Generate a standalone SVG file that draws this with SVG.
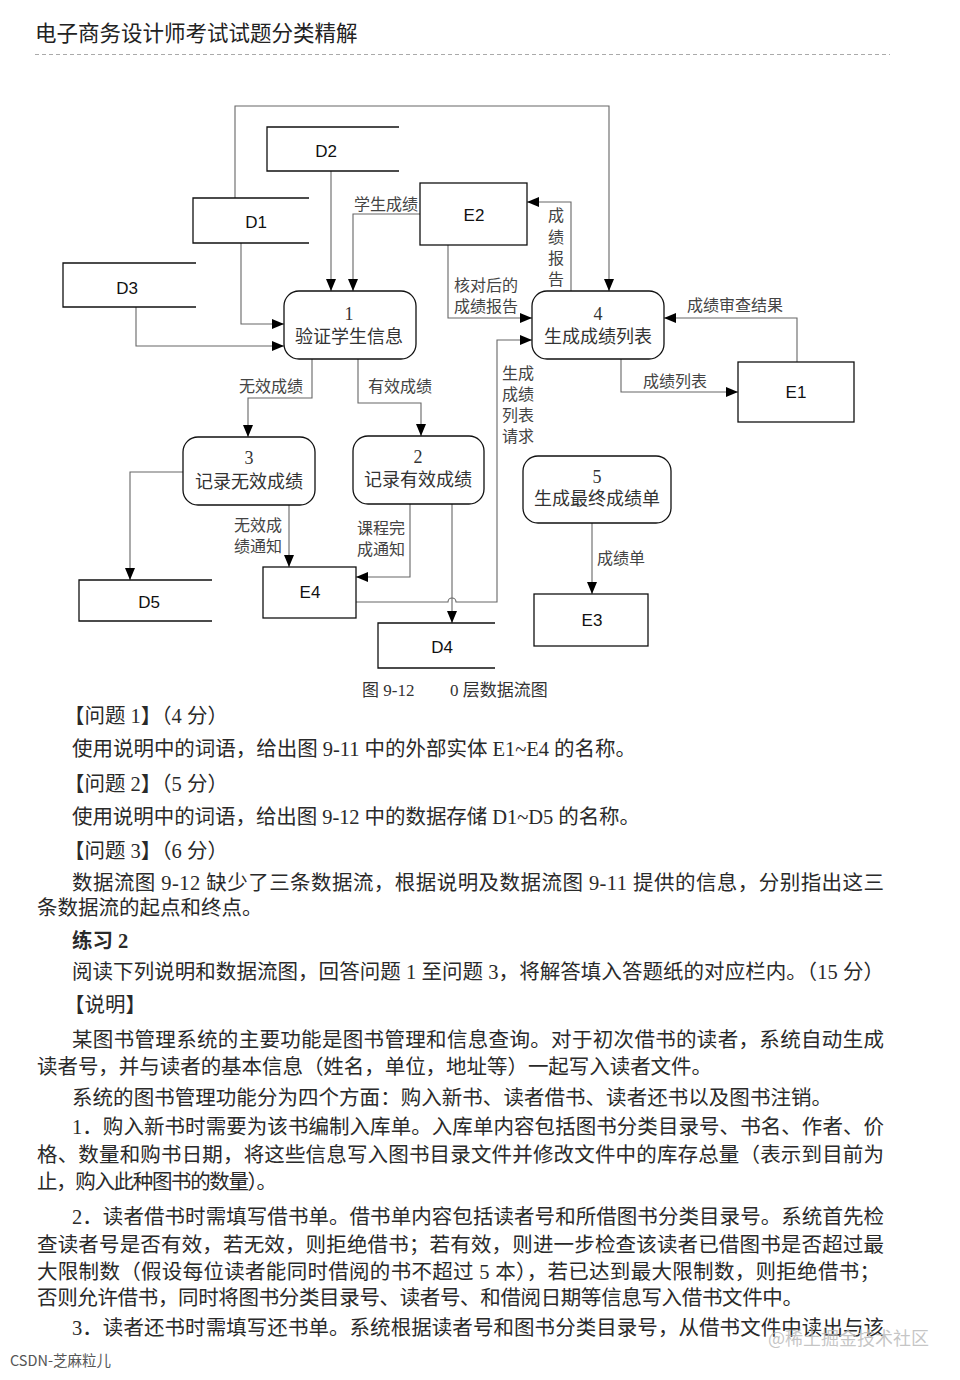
<svg xmlns="http://www.w3.org/2000/svg" width="960" height="1380" viewBox="0 0 960 1380">
<style>
.hdr{font-family:"Noto Sans CJK SC","Noto Sans",sans-serif;font-size:21.5px;fill:#222}
.box{fill:#fff;stroke:#111;stroke-width:1.3}
.store{fill:none;stroke:#111;stroke-width:1.3}
.proc{fill:#fff;stroke:#111;stroke-width:1.3}
.nl{font-family:"Liberation Sans",Arial,sans-serif;font-size:17px;fill:#111;text-anchor:middle}
.pt{font-family:"Liberation Serif","Noto Sans CJK SC",serif;font-size:18px;fill:#333;text-anchor:middle}
.lb{font-family:"Liberation Serif","Noto Sans CJK SC",serif;font-size:16px;fill:#444}
.cn{fill:none;stroke:#666;stroke-width:1.1}
.body{font-family:"Liberation Serif","Noto Sans CJK SC",serif;font-size:20.5px;fill:#2a2a2a}
.cap{font-family:"Liberation Serif","Noto Sans CJK SC",serif;font-size:17px;fill:#333}
</style>
<defs>
<marker id="ah" markerUnits="userSpaceOnUse" markerWidth="13" markerHeight="11" refX="12" refY="5" orient="auto">
<path d="M0,0 L12,5 L0,10 z" fill="#000"/>
</marker>
</defs>
<rect width="960" height="1380" fill="#fff"/>
<text class="hdr" x="35" y="41">电子商务设计师考试试题分类精解</text>
<line x1="35" y1="54.5" x2="890" y2="54.5" stroke="#aaa" stroke-width="1" stroke-dasharray="4,3"/>

<g id="connectors">
<path class="cn" d="M235,198 V106 H609 V291" marker-end="url(#ah)"/>
<path class="cn" d="M331,171 V291" marker-end="url(#ah)"/>
<path class="cn" d="M420,214 H353 V291" marker-end="url(#ah)"/>
<path class="cn" d="M241,243 V324 H284" marker-end="url(#ah)"/>
<path class="cn" d="M136,307 V346 H284" marker-end="url(#ah)"/>
<path class="cn" d="M448,245 V318 H532" marker-end="url(#ah)"/>
<path class="cn" d="M571,291 V202 H527" marker-end="url(#ah)"/>
<path class="cn" d="M797,362 V318 H664" marker-end="url(#ah)"/>
<path class="cn" d="M621,359 V392 H738" marker-end="url(#ah)"/>
<path class="cn" d="M312,359 V398 H248 V437" marker-end="url(#ah)"/>
<path class="cn" d="M358,359 V403 H421 V436" marker-end="url(#ah)"/>
<path class="cn" d="M183,472 H130 V580" marker-end="url(#ah)"/>
<path class="cn" d="M289,505 V567" marker-end="url(#ah)"/>
<path class="cn" d="M410,504 V577 H356" marker-end="url(#ah)"/>
<path class="cn" d="M452,504 V623" marker-end="url(#ah)"/>
<path class="cn" d="M356,602 H448 A4,4 0 0 1 456,602 H497 V340 H532" marker-end="url(#ah)"/>
<path class="cn" d="M592,523 V594" marker-end="url(#ah)"/>
<text class="lb" x="418" y="210" text-anchor="end">学生成绩</text>
<text class="lb" x="454" y="291">核对后的</text>
<text class="lb" x="454" y="312">成绩报告</text>
<text class="lb" x="548" y="221">成</text>
<text class="lb" x="548" y="243">绩</text>
<text class="lb" x="548" y="264">报</text>
<text class="lb" x="548" y="285">告</text>
<text class="lb" x="687" y="311">成绩审查结果</text>
<text class="lb" x="643" y="387">成绩列表</text>
<text class="lb" x="303" y="392" text-anchor="end">无效成绩</text>
<text class="lb" x="368" y="392">有效成绩</text>
<text class="lb" x="502" y="379">生成</text>
<text class="lb" x="502" y="400">成绩</text>
<text class="lb" x="502" y="421">列表</text>
<text class="lb" x="502" y="442">请求</text>
<text class="lb" x="234" y="531">无效成</text>
<text class="lb" x="234" y="552">绩通知</text>
<text class="lb" x="357" y="534">课程完</text>
<text class="lb" x="357" y="555">成通知</text>
<text class="lb" x="597" y="564">成绩单</text>
</g>

<g id="D2"><path class="store" d="M399,127 H267 V171 H399"/><text class="nl" x="326" y="157">D2</text></g>
<g id="D1"><path class="store" d="M309,198 H193 V243 H309"/><text class="nl" x="256" y="228">D1</text></g>
<g id="D3"><path class="store" d="M196,263 H63 V307 H196"/><text class="nl" x="127" y="294">D3</text></g>
<g id="D5"><path class="store" d="M212,580 H79 V621 H212"/><text class="nl" x="149" y="608">D5</text></g>
<g id="D4"><path class="store" d="M495,623 H378 V668 H495"/><text class="nl" x="442" y="653">D4</text></g>

<g id="E2"><rect class="box" x="420" y="183" width="107" height="62"/><text class="nl" x="474" y="221">E2</text></g>
<g id="E1"><rect class="box" x="738" y="362" width="116" height="60"/><text class="nl" x="796" y="398">E1</text></g>
<g id="E4"><rect class="box" x="263" y="567" width="93" height="51"/><text class="nl" x="310" y="598">E4</text></g>
<g id="E3"><rect class="box" x="534" y="594" width="114" height="52"/><text class="nl" x="592" y="626">E3</text></g>

<g id="P1"><rect class="proc" x="284" y="291" width="132" height="68" rx="15"/><text class="pt" x="349" y="320">1</text><text class="pt" x="349" y="343">验证学生信息</text></g>
<g id="P4"><rect class="proc" x="532" y="291" width="132" height="68" rx="15"/><text class="pt" x="598" y="320">4</text><text class="pt" x="598" y="343">生成成绩列表</text></g>
<g id="P3"><rect class="proc" x="183" y="437" width="132" height="68" rx="15"/><text class="pt" x="249" y="464">3</text><text class="pt" x="249" y="488">记录无效成绩</text></g>
<g id="P2"><rect class="proc" x="353" y="436" width="131" height="68" rx="15"/><text class="pt" x="418" y="463">2</text><text class="pt" x="418" y="486">记录有效成绩</text></g>
<g id="P5"><rect class="proc" x="523" y="456" width="148" height="67" rx="15"/><text class="pt" x="597" y="483">5</text><text class="pt" x="597" y="505">生成最终成绩单</text></g>

<text class="cap" x="362" y="696">图 9-12</text>
<text class="cap" x="450" y="696">0 层数据流图</text>

<g id="bodytext">
<text class="body" x="64" y="723">【问题 1】（4 分）</text>
<text class="body" x="72" y="756" textLength="564" lengthAdjust="spacing">使用说明中的词语，给出图 9-11 中的外部实体 E1~E4 的名称。</text>
<text class="body" x="64" y="791">【问题 2】（5 分）</text>
<text class="body" x="72" y="824" textLength="568" lengthAdjust="spacing">使用说明中的词语，给出图 9-12 中的数据存储 D1~D5 的名称。</text>
<text class="body" x="64" y="858">【问题 3】（6 分）</text>
<text class="body" x="72" y="890" textLength="812" lengthAdjust="spacing">数据流图 9-12 缺少了三条数据流，根据说明及数据流图 9-11 提供的信息，分别指出这三</text>
<text class="body" x="37" y="915">条数据流的起点和终点。</text>
<text class="body" x="72" y="948" font-weight="bold">练习 2</text>
<text class="body" x="72" y="979" textLength="812" lengthAdjust="spacing">阅读下列说明和数据流图，回答问题 1 至问题 3，将解答填入答题纸的对应栏内。（15 分）</text>
<text class="body" x="64" y="1012">【说明】</text>
<text class="body" x="72" y="1047" textLength="812" lengthAdjust="spacing">某图书管理系统的主要功能是图书管理和信息查询。对于初次借书的读者，系统自动生成</text>
<text class="body" x="37" y="1074" textLength="675" lengthAdjust="spacing">读者号，并与读者的基本信息（姓名，单位，地址等）一起写入读者文件。</text>
<text class="body" x="72" y="1105" textLength="760" lengthAdjust="spacing">系统的图书管理功能分为四个方面：购入新书、读者借书、读者还书以及图书注销。</text>
<text class="body" x="72" y="1134" textLength="812" lengthAdjust="spacing">1．购入新书时需要为该书编制入库单。入库单内容包括图书分类目录号、书名、作者、价</text>
<text class="body" x="37" y="1162" textLength="847" lengthAdjust="spacing">格、数量和购书日期，将这些信息写入图书目录文件并修改文件中的库存总量（表示到目前为</text>
<text class="body" x="37" y="1189" textLength="240" lengthAdjust="spacing">止，购入此种图书的数量）。</text>
<text class="body" x="72" y="1224" textLength="812" lengthAdjust="spacing">2．读者借书时需填写借书单。借书单内容包括读者号和所借图书分类目录号。系统首先检</text>
<text class="body" x="37" y="1252" textLength="847" lengthAdjust="spacing">查读者号是否有效，若无效，则拒绝借书；若有效，则进一步检查该读者已借图书是否超过最</text>
<text class="body" x="37" y="1279" textLength="843" lengthAdjust="spacing">大限制数（假设每位读者能同时借阅的书不超过 5 本），若已达到最大限制数，则拒绝借书；</text>
<text class="body" x="37" y="1305" textLength="766" lengthAdjust="spacing">否则允许借书，同时将图书分类目录号、读者号、和借阅日期等信息写入借书文件中。</text>
<text class="body" x="72" y="1335" textLength="812" lengthAdjust="spacing">3．读者还书时需填写还书单。系统根据读者号和图书分类目录号，从借书文件中读出与该</text>
</g>
<text x="768" y="1345" font-family="Noto Sans CJK SC,sans-serif" font-size="18" fill="#bbb" fill-opacity="0.85">@稀土掘金技术社区</text>
<text x="10" y="1366" font-family="Noto Sans CJK SC,sans-serif" font-size="14.5" fill="#555">CSDN-芝麻粒儿</text>
</svg>
